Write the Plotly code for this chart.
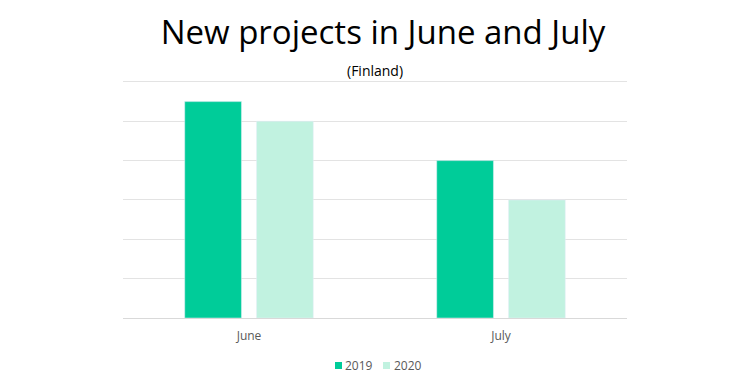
import plotly.graph_objects as go

months = ["June", "July"]
series_names = ["2019", "2020"]
values_2019 = [5.5, 4]
values_2020 = [5, 3]
colors = ["#00CC99", "#C1F2E0"]

fig = go.Figure()
fig.add_trace(go.Bar(name=series_names[0], x=months, y=values_2019, marker_color=colors[0]))
fig.add_trace(go.Bar(name=series_names[1], x=months, y=values_2020, marker_color=colors[1]))

# custom compact legend (squares + labels), placed in paper coords
PH = 240.0  # plot height in px
def py(yfig):
    return (310 - yfig) / PH

legend_items = [
    dict(x0=0.4206, x1=0.4345, tx=0.4385),
    dict(x0=0.5159, x1=0.5298, tx=0.5357),
]
shapes = []
annotations = [dict(text="(Finland)", xref="paper", yref="paper", x=0.5, y=1.0,
                    yshift=8, showarrow=False, font=dict(size=14, color="#000000"),
                    yanchor="middle")]
for i, item in enumerate(legend_items):
    shapes.append(dict(type="rect", xref="paper", yref="paper",
                       x0=item["x0"], x1=item["x1"], y0=py(354), y1=py(361),
                       fillcolor=colors[i], line=dict(width=0)))
    annotations.append(dict(text=series_names[i], xref="paper", yref="paper",
                            x=item["tx"], y=py(357), xanchor="left", yanchor="middle",
                            showarrow=False, borderpad=0,
                            font=dict(size=12, color="#595959")))

fig.update_layout(
    width=750, height=392,
    margin=dict(l=115, r=131, t=70, b=82),
    paper_bgcolor="white", plot_bgcolor="white",
    font=dict(family="Open Sans", color="#595959"),
    barmode="group", bargap=0.43, bargroupgap=0.21,
    title=dict(text="New projects in June and July", x=0.5, xanchor="center",
               y=0.938, yanchor="middle", font=dict(size=33, color="#000000")),
    annotations=annotations,
    shapes=shapes,
    showlegend=False,
    xaxis=dict(showgrid=False, ticks="", ticklabelstandoff=7,
               tickfont=dict(size=12, color="#595959"),
               showline=True, linecolor="#D9D9D9", linewidth=1),
    yaxis=dict(range=[0, 6.1], dtick=1, showticklabels=False, showgrid=True,
               gridcolor="#E3E3E3", gridwidth=1, zeroline=False),
)

fig.write_html("out.html")
